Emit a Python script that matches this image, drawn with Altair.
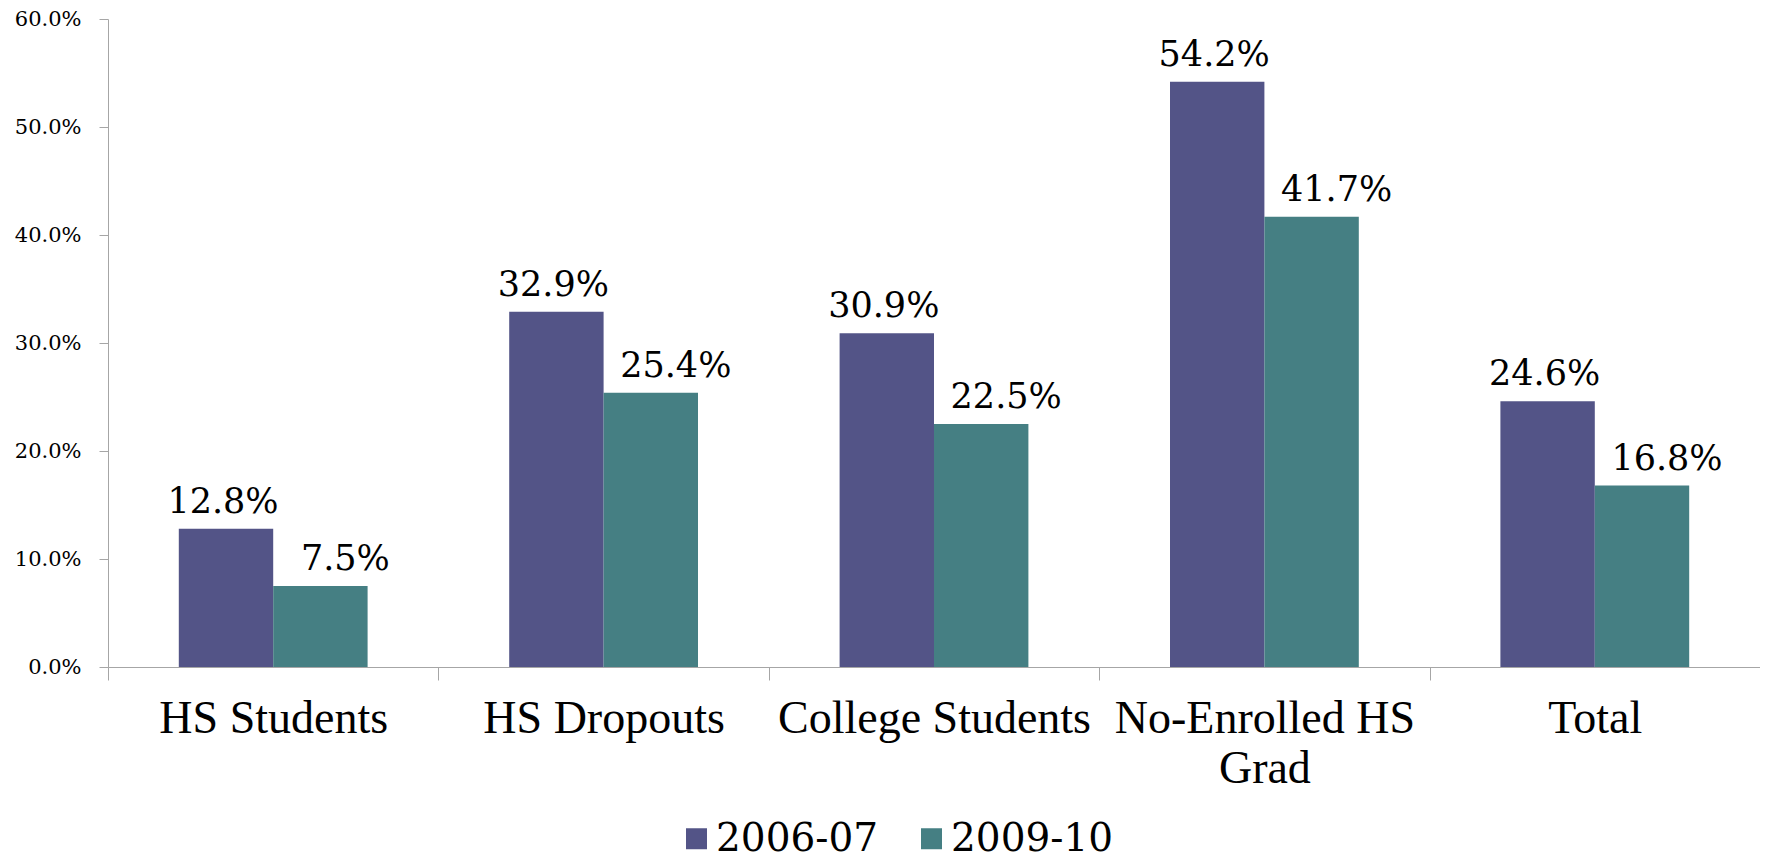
import altair as alt
import pandas as pd

categories = ["HS Students", "HS Dropouts", "College Students", "No-Enrolled HS Grad", "Total"]
series = ["2006-07", "2009-10"]
values_2006 = [12.8, 32.9, 30.9, 54.2, 24.6]
values_2009 = [7.5, 25.4, 22.5, 41.7, 16.8]
colors = ["#535487", "#457F83"]
y_ticks = [0, 10, 20, 30, 40, 50, 60]

rows = []
for c, v in zip(categories, values_2006):
    rows.append({"category": c, "series": series[0], "value": v})
for c, v in zip(categories, values_2009):
    rows.append({"category": c, "series": series[1], "value": v})
df = pd.DataFrame(rows)

axis_gray = "#A6A6A6"

x_enc = alt.X(
    "category:N",
    sort=categories,
    scale=alt.Scale(paddingInner=0, paddingOuter=0),
    axis=alt.Axis(
        title=None,
        labelAngle=0,
        tickBand="extent",
        tickSize=13,
        tickColor=axis_gray,
        domainColor=axis_gray,
        labelFont="Liberation Serif",
        labelFontSize=46,
        labelColor="black",
        labelPadding=16,
        labelLineHeight=50,
        labelLimit=0,
        labelExpr="datum.value == 'No-Enrolled HS Grad' ? ['No-Enrolled HS', 'Grad'] : datum.label",
    ),
)
xo_enc = alt.XOffset("series:N", sort=series, scale=alt.Scale(paddingOuter=0.75, paddingInner=0))
y_enc = alt.Y(
    "value:Q",
    scale=alt.Scale(domain=[0, 60], nice=False),
    axis=alt.Axis(
        title=None,
        values=y_ticks,
        grid=False,
        tickSize=9,
        tickColor=axis_gray,
        domainColor=axis_gray,
        labelFont="DejaVu Serif",
        labelFontSize=21,
        labelColor="black",
        labelPadding=18,
        labelFlush=False,
        labelExpr="format(datum.value, '.1f') + '%'",
    ),
)

base = alt.Chart(df)

bars = base.mark_bar().encode(
    x=x_enc,
    xOffset=xo_enc,
    y=y_enc,
    color=alt.Color(
        "series:N",
        sort=series,
        scale=alt.Scale(domain=series, range=colors),
        legend=alt.Legend(
            title=None,
            orient="none",
            legendX=569,
            legendY=800,
            direction="horizontal",
            symbolType="square",
            symbolSize=441,
            symbolStrokeWidth=0,
            labelFont="DejaVu Serif",
            labelFontSize=39,
            labelColor="black",
            labelOffset=0,
            labelLimit=0,
            columnPadding=33,
            padding=0,
        ),
    ),
)

label_props = dict(font="DejaVu Serif", fontSize=35, color="black", baseline="alphabetic", align="center", dy=-16)

text1 = base.transform_filter(alt.datum.series == series[0]).transform_calculate(
    lbl="format(datum.value, '.1f') + '%'"
).mark_text(dx=-3, **label_props).encode(
    x=alt.X("category:N", sort=categories),
    xOffset=alt.XOffset("series:N", sort=series),
    y=alt.Y("value:Q"),
    text="lbl:N",
)

text2 = base.transform_filter(alt.datum.series == series[1]).transform_calculate(
    lbl="format(datum.value, '.1f') + '%'"
).mark_text(dx=25, **label_props).encode(
    x=alt.X("category:N", sort=categories),
    xOffset=alt.XOffset("series:N", sort=series),
    y=alt.Y("value:Q"),
    text="lbl:N",
)

chart = alt.layer(bars, text1, text2).properties(
    width=1652,
    height=648,
    autosize=alt.AutoSizeParams(type="none"),
    padding={"left": 100, "top": 11, "right": 0, "bottom": 195},
).configure_view(strokeWidth=0)

chart.save("out.html", embed_options={"renderer": "svg", "actions": False})
